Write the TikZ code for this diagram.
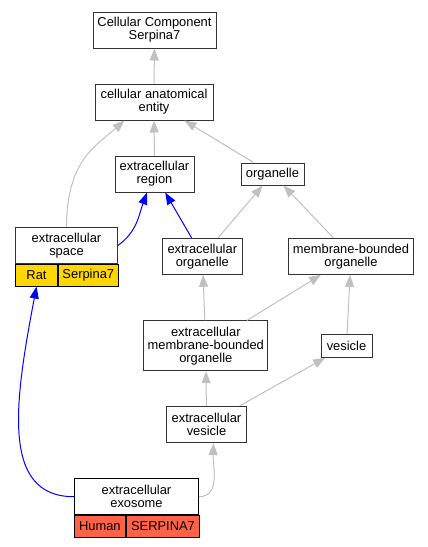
\documentclass[tikz,border=0pt]{standalone}
\usepackage{fontspec}
\setmainfont{Liberation Sans}
\usetikzlibrary{arrows.meta}
\definecolor{edgegray}{HTML}{C0C0C0}
\definecolor{ratgold}{HTML}{FFD700}
\definecolor{humanred}{HTML}{FF6347}
\begin{document}
\begin{tikzpicture}[x=1pt, y=1pt,
    term/.style={draw=black!80, line width=1pt, fill=white, align=center, inner sep=0pt,
      font=\fontsize{12.9}{13}\selectfont},
    cell/.style={term, draw=black, minimum height=21.7pt, anchor=north west},
    isa/.style={draw=edgegray, line width=1pt, -{Triangle[length=12pt,width=9pt]}},
    partof/.style={draw=blue, line width=1pt, -{Triangle[length=12pt,width=9pt]}}]
  \useasboundingbox (0,0) rectangle (428,-547);
  \node (top) at (154.5, -30) [term, minimum width=123pt, minimum height=36pt] {Cellular Component\\Serpina7};
  \node (cae) at (154, -102) [term, minimum width=118pt, minimum height=36pt] {cellular anatomical\\entity};
  \node (er) at (154.5, -174) [term, minimum width=79pt, minimum height=36pt] {extracellular\\region};
  \node (org) at (272.5, -174) [term, minimum width=63pt, minimum height=22pt] {organelle};
  \node (es) at (66.5, -245.5) [term, minimum width=101.6pt, minimum height=35.7pt] {extracellular\\space};
  \node (esrat) at (es.south west) [cell, fill=ratgold, minimum width=41.6pt] {Rat};
  \node (esgene) at (esrat.north east) [cell, fill=ratgold, minimum width=60pt] {Serpina7};
  \node (eo) at (202.3, -256.3) [term, minimum width=80pt, minimum height=36pt] {extracellular\\organelle};
  \node (mbo) at (351, -256.3) [term, minimum width=124.7pt, minimum height=36pt] {membrane-bounded\\organelle};
  \node (embo) at (205.8, -345.8) [term, minimum width=124.3pt, minimum height=49.7pt] {extracellular\\membrane-bounded\\organelle};
  \node (ves) at (346.5, -345.8) [term, minimum width=51pt, minimum height=23pt] {vesicle};
  \node (ev) at (206.5, -424.5) [term, minimum width=80.4pt, minimum height=36.3pt] {extracellular\\vesicle};
  \node (ex) at (136.5, -496.7) [term, draw=black, minimum width=124.3pt, minimum height=36pt] {extracellular\\exosome};
  \node (exhuman) at (ex.south west) [cell, fill=humanred, minimum width=51pt] {Human};
  \node (exgene) at (exhuman.north east) [cell, fill=humanred, minimum width=73.3pt] {SERPINA7};
  % is_a
  \draw[isa] (cae) -- (top);
  \draw[isa] (er) -- (cae);
  \draw[isa] (org) -- (cae);
  \draw[isa] (es.north) .. controls (66.5, -160) and (97, -145) .. ([xshift=30pt]cae.south west);
  \draw[isa] (eo) -- (org);
  \draw[isa] (mbo) -- (org);
  \draw[isa] (embo) -- (eo);
  \draw[isa] (embo) -- (mbo);
  \draw[isa] (ves) -- (mbo);
  \draw[isa] (ev) -- (embo);
  \draw[isa] (ev) -- (ves);
  \draw[isa] (ex.east) to[out=0, in=-92] ([xshift=7pt]ev.south);
  % part_of
  \draw[partof] (es.east) to[out=35, in=-110] ([xshift=-7.5pt]er.south);
  \draw[partof] (eo) -- (er);
  \draw[partof] (ex.west) .. controls (0, -496.7) and (15, -400) .. (esrat.south);
\end{tikzpicture}
\end{document}
